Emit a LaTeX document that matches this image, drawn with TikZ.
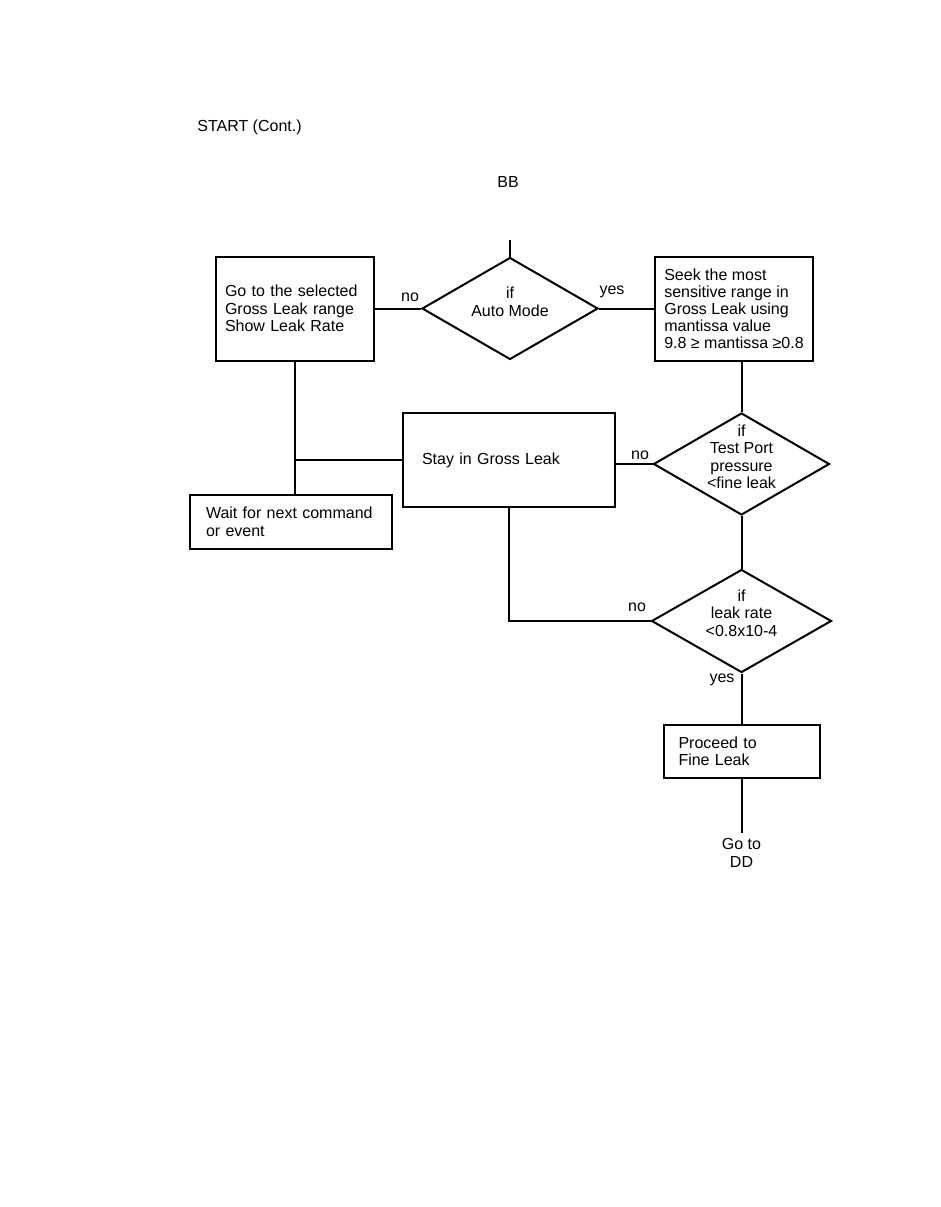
\documentclass[tikz,border=0pt]{standalone}
\usepackage{fontspec}
\setmainfont{Liberation Sans}
\usetikzlibrary{shapes.geometric,positioning,calc}

\begin{document}
\begin{tikzpicture}[x=1pt,y=-1pt,line width=2pt,
    font=\fontsize{16}{17.5}\selectfont,
    box/.style={draw,rectangle,align=left,inner ysep=0pt},
    dia/.style={draw,diamond,inner sep=0pt},
    txt/.style={align=center,inner sep=0pt}]
  \useasboundingbox (0,0) rectangle (941,1207);
  % header
  \node[anchor=west] (start) at (193,127) {START (Cont.)};
  \node (bb) at (508,182) {BB};
  % auto mode test
  \coordinate (entry) at (510,240);
  \node[dia,minimum width=176pt,minimum height=102pt] (auto) at (510,308.5) {};
  \node[txt] at (510,302) {if\\Auto Mode};
  \node[box,text width=140pt,minimum height=104pt,inner xsep=9pt] (gosel) at (295,308.5)
    {Go to the selected\\Gross Leak range\\Show Leak Rate};
  \node[box,minimum width=158pt,minimum height=104pt,inner xsep=0pt,
    font=\fontsize{16}{17}\selectfont] (seek) at (734,308.5)
    {Seek the most\\sensitive range in\\Gross Leak using\\mantissa value\\9.8 ≥ mantissa ≥0.8};
  \node (no1) at (410,297) {no};
  \node (yes1) at (612,292) {yes};
  % test port pressure
  \node[dia,minimum width=176pt,minimum height=102pt] (port) at (741.5,464) {};
  \node[txt] at (741.5,457) {if\\Test Port\\pressure\\<fine leak};
  \node[box,text width=174pt,minimum height=94pt,inner xsep=19pt] (stay) at (509,460)
    {Stay in Gross Leak};
  \node[box,text width=170pt,minimum height=54pt,inner xsep=16pt] (wait) at (291,522)
    {Wait for next command\\or event};
  \node (no2) at (640,455) {no};
  % leak rate
  \node[dia,minimum width=180pt,minimum height=103pt] (rate) at (741.5,621) {};
  \node[txt] at (741.5,613) {if\\leak rate\\<0.8x10-4};
  \node (no3) at (637,607) {no};
  \node (yes2) at (722,680) {yes};
  \node[box,text width=126pt,minimum height=53pt,inner xsep=15pt] (fine) at (741.5,751.5)
    {Proceed to\\Fine Leak};
  \node[txt,inner ysep=5pt] (dd) at (741.5,853) {Go to\\DD};
  % connectors
  \draw (entry) -- (auto.north);
  \draw (auto.west) -- (gosel.east);
  \draw (auto.east) -- (seek.west);
  \draw (seek.south -| port.north) -- (port.north);
  \draw (port.west) -- (port.west -| stay.east);
  \draw (port.south) -- (rate.north);
  \draw (stay.south) |- (rate.west);
  \draw (gosel.south) -- (gosel.south |- wait.north);
  \draw (stay.west) -- (stay.west -| gosel.south);
  \draw (rate.south) -- (fine.north);
  \draw (fine.south) -- (dd.north);
\end{tikzpicture}
\end{document}
